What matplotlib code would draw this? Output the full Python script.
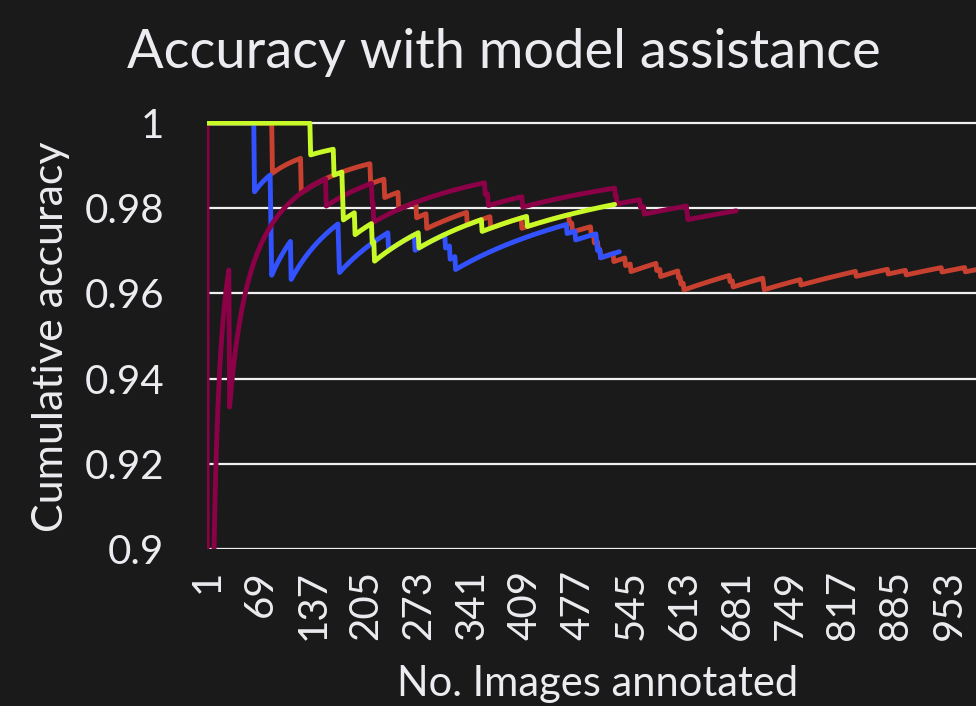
import numpy as np
import matplotlib.pyplot as plt

# image index of each wrongly annotated image
red_errors = [85, 122, 211, 229, 247, 270, 283, 335, 365, 405, 466, 470,
              494, 498, 503, 506, 523, 538, 545, 578, 583, 606, 609, 613,
              672, 676, 715, 716, 763, 834, 875, 898, 944, 974]
red_total = 1000
blue_errors = [62, 83, 84, 109, 170, 171, 234, 268, 307, 313, 320,
               463, 474, 501, 502, 506]
blue_total = 530
green_errors = [134, 164, 175, 176, 191, 213, 216, 273, 354, 412]
green_total = 524
maroon_errors = [2, 30, 154, 213, 215, 358, 362, 406, 525, 527,
                 557, 562, 617, 618]
maroon_total = 680

x_ticks = list(range(1, 954, 68))
y_ticks = [0.9, 0.92, 0.94, 0.96, 0.98, 1.0]
y_tick_labels = ['0.9', '0.92', '0.94', '0.96', '0.98', '1']

bg = '#1a1a1a'
fg = '#ececf0'

plt.rcParams['font.family'] = ['Lato', 'DejaVu Sans']


def cumulative_accuracy(errors, total):
    n = np.arange(1, total + 1)
    wrong = np.zeros(total)
    wrong[np.array(errors) - 1] = 1
    return n, 1 - np.cumsum(wrong) / n


fig = plt.figure(figsize=(9.76, 7.06), dpi=100, facecolor=bg)
ax = fig.add_axes([207 / 976, 1 - 549 / 706, 1 - 207 / 976, 428 / 706])
ax.set_facecolor(bg)

for errors, total, color in [(red_errors, red_total, '#c8402f'),
                             (blue_errors, blue_total, '#3352ff'),
                             (maroon_errors, maroon_total, '#8c0048'),
                             (green_errors, green_total, '#c8fa28')]:
    n, acc = cumulative_accuracy(errors, total)
    ax.plot(n, acc, color=color, lw=3.5, solid_joinstyle='round',
            solid_capstyle='round', zorder=3)

ax.set_xlim(1, 1 + 769 / 0.7794)
ax.set_ylim(0.9, 1.0005)
ax.set_xticks(x_ticks)
ax.set_xticklabels([str(t) for t in x_ticks], rotation=90)
ax.set_yticks(y_ticks)
ax.set_yticklabels(y_tick_labels)
ax.tick_params(length=0, colors=fg, labelsize=29)
ax.tick_params(axis='x', pad=15)
ax.tick_params(axis='y', pad=31)
ax.grid(axis='y', color='#f0f0f0', lw=1.6, zorder=1)
for s in ax.spines.values():
    s.set_visible(False)

fig.text(504 / 976, 1 - 68 / 706, 'Accuracy with model assistance',
         ha='center', va='baseline', color=fg, fontsize=39)
fig.text(51 / 976, 1 - 337 / 706, 'Cumulative accuracy', rotation=90,
         ha='center', va='center', color=fg, fontsize=31)
fig.text(598 / 976, 1 - 696 / 706, 'No. Images annotated',
         ha='center', va='baseline', color=fg, fontsize=30)

fig.savefig('out.png', dpi=100, facecolor=bg)
